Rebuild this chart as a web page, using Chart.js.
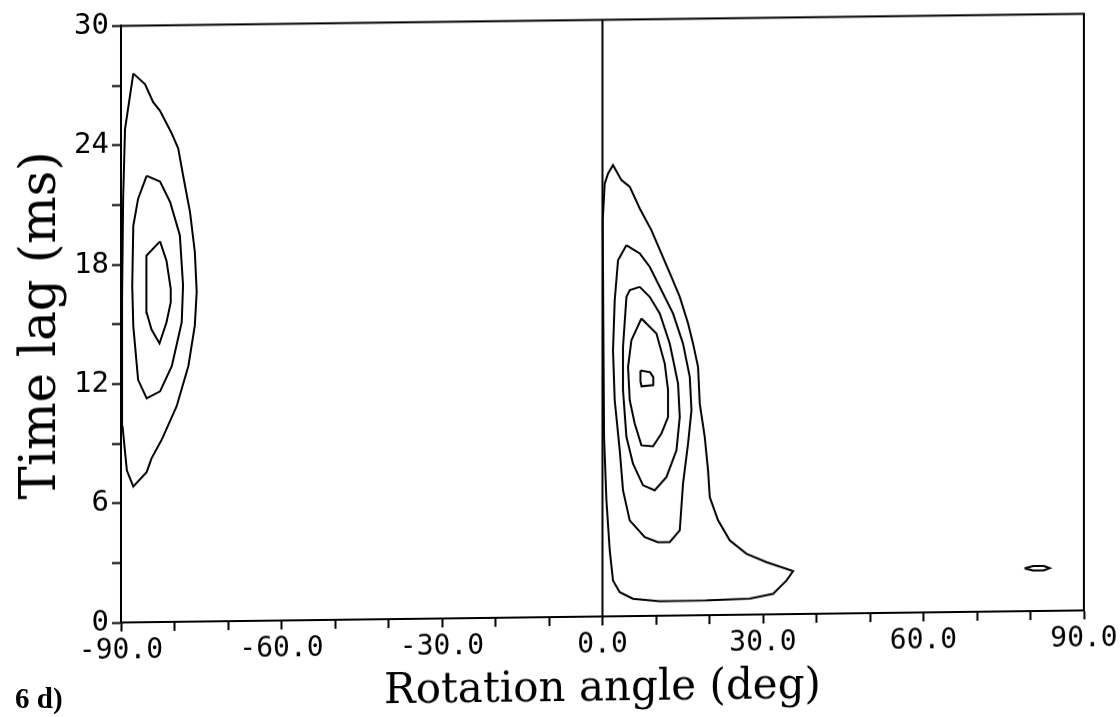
<!DOCTYPE html>
<html>
<head>
<meta charset="utf-8">
<script src="https://cdn.jsdelivr.net/npm/chart.js@4.4.1/dist/chart.umd.min.js"></script>
<style>
  html, body { margin: 0; padding: 0; background: #fff; }
  #wrap { position: relative; width: 1120px; height: 717px; overflow: hidden; }
  #chart { position: absolute; left: 0; top: 0; transform: skewY(-0.72deg); transform-origin: 560px 358px; }
  #panel { position: absolute; left: 15px; top: 684px; font: bold 29px "Liberation Serif", serif; line-height: 1; color: #000; }
</style>
</head>
<body>
<div id="wrap">
  <canvas id="chart" width="1120" height="717"></canvas>
  <div id="panel">6 d)</div>
</div>
<script>
// contour lines, [rotation angle (deg), time lag (ms)]
const leftOuter = [[-87.7,27.6],[-85.5,27.05],[-84.0,26.15],[-82.7,25.7],[-80.5,24.55],[-79.3,23.8],[-78.4,22.45],[-77.1,20.6],[-76.2,18.6],[-75.85,16.58],[-76.2,14.89],[-77.4,12.86],[-79.6,10.84],[-82.4,9.16],[-84.3,8.23],[-85.2,7.55],[-87.7,6.83],[-88.9,7.64],[-89.7,9.83],[-89.8,16.2],[-89.6,21.3],[-89.25,24.8],[-87.7,27.6]];
const leftMid = [[-85.2,22.45],[-82.7,22.15],[-80.8,21.1],[-79.0,19.44],[-78.4,16.91],[-78.65,15.06],[-80.5,12.86],[-82.7,11.6],[-85.2,11.26],[-86.8,12.19],[-87.7,14.89],[-87.9,16.91],[-87.7,19.94],[-86.8,21.3],[-85.2,22.45]];
const leftInner = [[-82.7,19.14],[-81.5,18.17],[-80.7,16.74],[-80.7,16.07],[-81.5,15.06],[-82.8,14.01],[-84.3,14.72],[-85.2,15.56],[-85.3,16.91],[-85.2,18.43],[-82.7,19.14]];
const rightOuter = [[0.05,19.93],[0.42,21.77],[1.04,22.27],[1.97,22.69],[3.54,21.93],[5.1,21.59],[6.97,20.49],[9.15,19.39],[11.02,18.21],[12.9,17.03],[14.45,16.02],[16.0,14.68],[16.93,13.67],[17.87,12.48],[18.19,10.64],[19.12,8.96],[19.74,7.28],[20.06,5.93],[21.61,4.76],[23.8,3.74],[26.92,3.06],[30.66,2.63],[35.64,2.16],[34.4,1.69],[31.9,1.03],[27.54,0.8],[19.44,0.74],[10.71,0.73],[5.71,0.87],[3.23,1.21],[1.97,1.8],[1.36,3.32],[0.74,5.83],[0.3,9.0],[0.15,15.0],[0.05,19.93]];
const rightSecond = [[4.48,18.65],[6.97,18.23],[8.84,17.55],[11.02,16.37],[13.19,15.19],[15.06,13.67],[16.32,11.99],[16.64,10.31],[16.0,8.64],[15.06,6.63],[14.45,4.28],[12.58,3.7],[10.39,3.7],[7.9,3.96],[5.1,4.81],[3.84,6.33],[3.23,8.34],[2.29,10.86],[1.97,13.38],[2.29,15.89],[2.91,17.9],[4.48,18.65]];
const rightThird = [[6.97,16.55],[8.84,16.04],[10.71,15.2],[12.58,13.68],[14.13,11.66],[14.45,9.98],[13.83,8.31],[11.96,6.97],[9.77,6.31],[7.58,6.57],[5.71,7.66],[4.48,9.01],[3.84,11.36],[3.84,13.54],[4.48,16.05],[5.1,16.39],[6.97,16.55]];
const rightFourth = [[7.28,14.96],[10.09,14.19],[11.64,12.68],[12.26,11.33],[12.26,9.99],[11.02,9.16],[9.45,8.52],[7.28,8.58],[6.03,9.68],[5.1,10.85],[4.78,12.53],[5.41,13.87],[7.28,14.96]];
const rightCore = [[7.1,12.35],[8.9,12.25],[9.5,12.0],[9.5,11.6],[7.3,11.55],[7.1,11.8],[7.1,12.35]];
const farBlip = [[78.9,2.15],[80.5,2.26],[82.5,2.26],[83.6,2.15],[82.5,2.04],[80.5,2.04],[78.9,2.15]];
const zeroLine = [[0,0],[0,30]];

const contours = [leftOuter, leftMid, leftInner, rightOuter, rightSecond, rightThird, rightFourth, rightCore, farBlip, zeroLine];

const xRange = [-90, 90];
const yRange = [0, 30];

const frame = {
    id: "frame",
    afterDraw(chart) {
        const a = chart.chartArea;
        const ctx = chart.ctx;
        ctx.save();
        ctx.strokeStyle = "#000";
        ctx.lineWidth = 2;
        ctx.strokeRect(a.left, a.top, a.right - a.left, a.bottom - a.top);
        ctx.restore();
    }
};

document.addEventListener("DOMContentLoaded", function () {
    const datasets = contours.map(c => ({
        data: c.map(p => ({ x: p[0], y: p[1] })),
        showLine: true,
        borderColor: "#000",
        borderWidth: 2,
        pointRadius: 0,
        tension: 0,
        fill: false
    }));

    new Chart(document.getElementById("chart"), {
        type: "scatter",
        data: { datasets },
        plugins: [frame],
        options: {
            responsive: false,
            animation: false,
            layout: { padding: { top: 20, right: 36, left: 0, bottom: 0 } },
            plugins: { legend: { display: false }, tooltip: { enabled: false } },
            scales: {
                x: {
                    min: xRange[0], max: xRange[1],
                    afterFit: s => { s.height = 100; s.paddingRight = 0; s.paddingLeft = 0; },
                    border: { display: true, color: "#000", width: 2 },
                    grid: { drawOnChartArea: false, drawTicks: true, tickLength: 9, tickColor: "#000", tickWidth: 2 },
                    ticks: {
                        stepSize: 10, autoSkip: false, maxRotation: 0, padding: 3, color: "#000",
                        font: { family: "DejaVu Sans Mono", size: 28 },
                        callback: v => (v % 30 === 0 ? v.toFixed(1) : "")
                    },
                    title: {
                        display: true, text: "Rotation angle (deg)", color: "#000",
                        font: { family: "DejaVu Serif", size: 42 }, padding: { top: 0, bottom: 2 }
                    }
                },
                y: {
                    min: yRange[0], max: yRange[1],
                    afterFit: s => { s.width = 121; },
                    border: { display: true, color: "#000", width: 2 },
                    grid: { drawOnChartArea: false, drawTicks: true, tickLength: 9, tickColor: "#000", tickWidth: 2 },
                    ticks: {
                        stepSize: 3, autoSkip: false, padding: 3, color: "#000",
                        font: { family: "DejaVu Sans Mono", size: 29 },
                        callback: v => (v % 6 === 0 ? String(v) : "")
                    },
                    title: {
                        display: true, text: "Time lag (ms)", color: "#000",
                        font: { family: "DejaVu Serif", size: 50 }, padding: { top: 12, bottom: 0 }
                    }
                }
            }
        }
    });
});
</script>
</body>
</html>
